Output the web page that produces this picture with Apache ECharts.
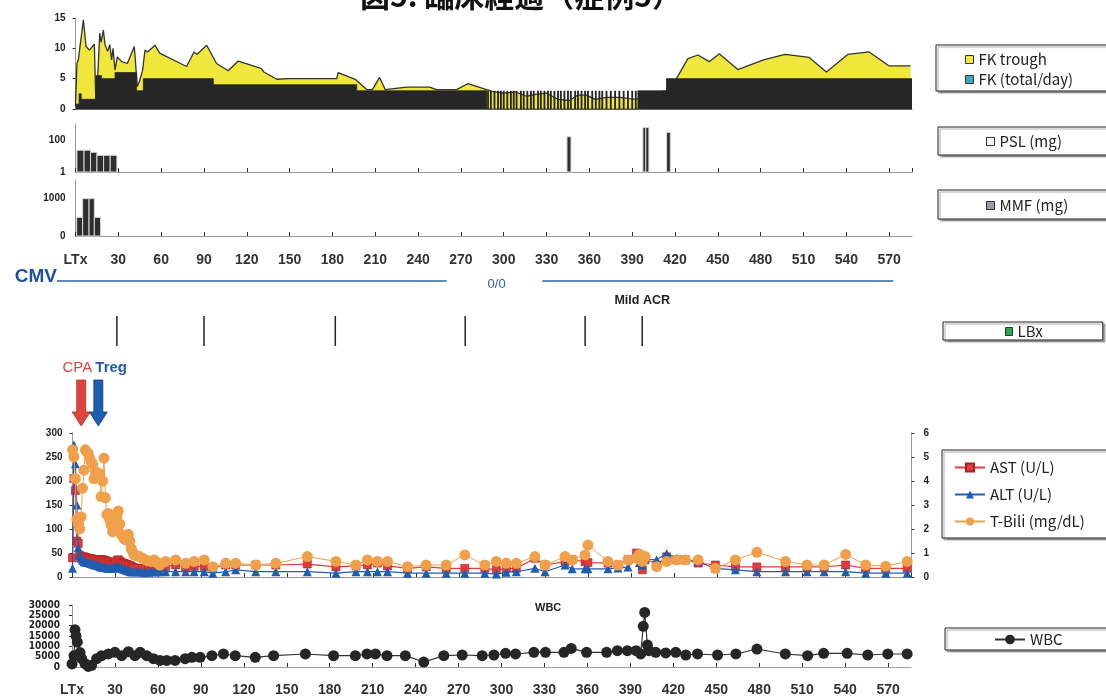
<!DOCTYPE html>
<html>
<head>
<meta charset="utf-8">
<script src="https://cdn.jsdelivr.net/npm/echarts@6/dist/echarts.min.js"></script>
<style>
  html, body { margin: 0; padding: 0; background: #fff; }
  #main { width: 1106px; height: 698px; }
</style>
</head>
<body>
<div id="main"></div>
<script>
// ---- FK (tacrolimus) ----
const fkTroughDays = [0, 1, 2, 3.2, 5.5, 7.4, 9.7, 13.2, 14.2, 15.5, 17, 18, 19.5, 20.7, 22.5, 24, 25.3, 26.3, 27.7, 29.3, 32.3, 36.3, 37.5, 39.3, 41.2, 43.3, 45, 47, 48.7, 50.5, 55.7, 59, 77.8, 83, 85, 91.9, 98.8, 107, 114, 130, 132, 141, 149, 183, 184, 196, 204, 208, 213, 217, 232, 248, 253, 267, 275, 288, 292, 300, 308, 316, 322, 330, 338, 346, 352, 358, 364, 372, 382, 388, 393, 400, 414, 421, 429, 436, 444, 451, 464, 482, 497, 514, 526, 541, 556, 570, 585];
const fkTroughVals = [0.5, 7.5, 8.1, 8.3, 14.7, 10.3, 9.7, 10.7, 1.5, 5, 12.5, 11, 13, 10.6, 9.5, 10.6, 8.1, 10, 6.4, 8.6, 7.8, 7.5, 7.5, 9.2, 10.3, 3.7, 4.7, 6.4, 9.7, 9.4, 10.5, 9.2, 7.0, 9.4, 9.0, 10.5, 7.5, 6.3, 7.9, 6.7, 6.1, 4.9, 5.0, 5.0, 6.0, 4.9, 3.2, 3.2, 5.2, 3.2, 3.6, 3.6, 3.2, 3.2, 4.2, 3.2, 2.9, 2.6, 2.8, 2.1, 2.4, 2.6, 1.6, 1.4, 2.3, 2.3, 1.6, 1.9, 1.9, 1.7, 1.6, 2.5, 3, 5, 8.3, 8.9, 7.8, 9.1, 6.5, 8.1, 9.0, 8.5, 6.1, 9.0, 9.4, 7.1, 7.1];
// daily dose, each value holds from its day on
const fkDoseDays = [0, 2.5, 4, 14.3, 18.3, 27.7, 42.8, 47.5, 96.5, 197, 288, 394, 414, 586];
const fkDoseVals = [0.8, 2.5, 1.6, 5.5, 5, 6, 3, 5, 4, 3, 0, 3, 5, 5];
// alternate-day dosing window
const fkAltDays = [289, 291, 293.5, 296, 298, 300, 302.5, 305, 307, 309, 312, 314, 316.5, 319, 321, 324, 326, 328.5, 331, 333, 335.5, 338, 340, 342.5, 345, 347, 350, 352, 354.5, 357, 359, 362, 364.5, 367, 369, 372, 375, 378, 381, 384, 387, 390, 392.5];
const fkAltVals = [3, 3, 3, 3, 3, 3, 3, 3, 3, 3, 3, 3, 3, 3, 3, 3, 3, 3, 3, 3, 3, 3, 3, 3, 3, 3, 3, 3, 3, 3, 3, 3, 3, 3, 3, 3, 3, 3, 3, 3, 3, 3, 3];

// ---- PSL / MMF (start day, end day, mg) ----
const pslStart = [1, 6, 10.5, 15, 19.7, 24.3, 344.3, 397.5, 399.5, 414.1];
const pslEnd = [6, 10.5, 15, 19.7, 24.3, 29, 347.1, 399.5, 401.7, 416.7];
const pslDose = [23, 23, 17, 11, 11, 11, 160, 600, 600, 300];
const mmfStart = [0.8, 5, 9.5, 13.2];
const mmfEnd = [5, 9.5, 13.2, 17.6];
const mmfDose = [500, 1000, 1000, 500];

// ---- events ----
const cmvStart = [-13, 327];
const cmvEnd = [260, 573];
const cmvLabelDay = 295;
const lbxDays = [29, 90, 182, 273, 357, 397];
const acrDay = 397;
const arrowDays = [4, 16];
const arrowNames = ['CPA', 'Treg'];

// ---- labs ----
const labDays = [0,1,2,3,4,5,6,7,8,9,10,11,12,13,14,15,16,17,18,19,20,21,22,23,24,25,26,27,28,29,30,31,32,33,34,35,36,37,38,39,40,41,42,43,45,47,49,51,53,55,57,59,61,65,72,79,85,92,98,107,114,128,142,164,184,198,206,213,220,234,247,261,274,288,296,303,310,323,330,344,349,358,360,374,381,388,394,396,398,400,408,415,422,428,437,449,463,478,498,513,525,540,554,568,583];
const ast = [40,205,180,75,70,45,42,42,42,40,40,39,38,38,37,36,36,36,36,36,36,36,35,34,33,32,30,27,25,26,30,34,36,33,30,29,28,27,26,25,24,22,20,19,18,18,18,18,18,19,20,20,21,22,25,20,22,22,20,25,25,25,25,27,21,23,25,29,23,18,21,18,18,18,15,18,18,39,25,32,36,32,30,29,25,36,50,45,15,39,25,42,36,36,29,25,21,21,21,21,21,25,18,18,18];
const alt = [18,275,236,150,61,45,39,35,32,32,30,30,29,28,27,26,25,25,24,22,21,21,20,20,19,18,18,18,18,19,20,21,21,20,18,17,16,15,14,13,12,11,11,11,11,11,10,10,10,11,11,11,11,11,11,11,11,11,8,11,15,11,11,11,8,11,11,11,11,8,8,8,8,8,6,10,11,18,11,25,17,17,17,17,19,21,39,30,25,36,36,49,39,36,32,18,15,11,11,11,11,11,8,8,8];
const tbili = [5.3,5.0,4.1,2.4,2.2,2.0,2.5,3.7,4.45,5.3,5.2,5.15,4.95,4.8,4.7,4.1,4.4,4.2,4.25,4.3,3.35,4.0,4.95,3.3,2.6,2.65,2.4,2.17,1.89,2.1,2.3,2.5,2.75,2.2,1.78,1.7,1.6,1.55,1.65,1.78,1.5,1.19,1.05,0.92,0.88,0.85,0.78,0.71,0.68,0.65,0.71,0.6,0.5,0.65,0.71,0.57,0.65,0.71,0.43,0.57,0.57,0.5,0.57,0.85,0.65,0.5,0.71,0.65,0.65,0.43,0.5,0.5,0.92,0.5,0.65,0.57,0.57,0.85,0.5,0.85,0.71,0.92,1.33,0.65,0.5,0.71,0.78,0.95,0.65,0.85,0.43,0.65,0.71,0.71,0.71,0.36,0.71,1.03,0.65,0.5,0.5,0.94,0.5,0.45,0.65];

const wbcDays = [0,1.4,2.1,2.8,3.7,5.6,6.8,9.1,11.4,13.7,17.2,20.7,25.4,30,34.7,39.4,44,47.6,52.2,56.9,61.5,66.2,72,79,83.7,89.5,97.7,105.8,114,128,140.8,163,182.7,197.9,206,211.9,220,232.8,245.7,259.7,272.5,286.5,294.7,302.8,309.8,322.6,330.7,343.6,348.7,359.4,373.4,380.9,387.9,394,397.2,399,400,401.9,403,407.7,414.7,421.7,428.7,436.9,450.9,463.7,478.4,498.2,513.8,525,541.4,555.8,569.8,583.3];
const wbc = [1500,5500,18000,15000,12000,7000,4000,1600,300,800,4000,5500,6300,7100,5500,7400,5500,7100,5500,4000,3200,3200,3200,4000,4700,4700,5500,6300,5500,4700,5500,6300,5500,5500,6300,6300,5500,5500,2400,5500,5800,5500,5800,6600,6300,7100,7100,7100,9000,7100,7100,7900,7900,7900,6300,19700,26400,10600,7900,7100,6800,7100,5800,6300,5800,6300,8700,6300,5500,6600,6600,5800,6300,6300];

const zip = (a, b) => a.map((v, i) => [v, b[i]]);
const zip3 = (a, b, c) => a.map((v, i) => [v, b[i], c[i]]);

const FONT = 'Liberation Sans';
const LEG_FONT = 'Noto Sans CJK JP';
const YELLOW = '#efe73c';
const DARK = '#262626';

const chart = echarts.init(document.getElementById('main'));

function rectBars(base, fill, stroke) {
  return function (params, api) {
    const top = api.coord([api.value(0), api.value(2)]);
    const bot = api.coord([api.value(1), base]);
    return {
      type: 'rect',
      shape: { x: top[0], y: top[1], width: bot[0] - top[0], height: bot[1] - top[1] },
      style: { fill: fill, stroke: stroke, lineWidth: 1 }
    };
  };
}

function dayAxis(grid, extra) {
  return Object.assign({
    type: 'value', gridIndex: grid, min: 0, max: 586, interval: 30,
    axisLine: { show: true, lineStyle: { color: '#8a8a8a', type: 'dotted', width: 1 } },
    axisTick: { show: true, inside: true, length: 4, lineStyle: { color: '#333' } },
    axisLabel: { show: false },
    splitLine: { show: false }
  }, extra || {});
}
const dayLabels = {
  show: true, margin: 17, fontSize: 14, fontWeight: 'bold', fontFamily: FONT, color: '#333',
  showMaxLabel: false,
  formatter: v => (v === 0 ? 'LTx' : String(v))
};
function hiddenAxis(grid) {
  return { type: 'value', gridIndex: grid, min: 0, max: 586, show: false };
}
function unitY(grid) {
  return { type: 'value', gridIndex: grid, min: 0, max: 1, show: false };
}
const yLab = { fontSize: 10, fontWeight: 'bold', fontFamily: FONT, color: '#222', margin: 10 };
const yLine = { show: true, lineStyle: { color: '#999', width: 1 } };
const yTick = { show: true, length: 3, lineStyle: { color: '#333' } };

const legendBox = {
  orient: 'vertical', borderColor: '#222', borderWidth: 1, backgroundColor: '#fff',
  shadowColor: 'rgba(0,0,0,0.35)', shadowOffsetX: 2, shadowOffsetY: 2, shadowBlur: 1,
  textStyle: { fontSize: 15, fontFamily: LEG_FONT, color: '#222' },
  selectedMode: false
};
function sq(color) {
  return { icon: 'rect', itemStyle: { color: color, borderColor: '#333', borderWidth: 1 } };
}

const option = {
  animation: false,
  title: [
    { text: '図5. 臨床経過（症例5）', left: 355, top: -24,
      textStyle: { fontSize: 30, fontWeight: 'bold', fontFamily: 'Noto Sans CJK JP', color: '#111' } },
    { text: 'WBC', left: 530, top: 597,
      textStyle: { fontSize: 11, fontWeight: 'bold', fontFamily: FONT, color: '#222' } }
  ],
  grid: [
    { left: 75.5, width: 836.5, top: 18, height: 91 },
    { left: 75.5, width: 836.5, top: 124, height: 48 },
    { left: 75.5, width: 836.5, top: 180, height: 56 },
    { left: 75.5, width: 836.5, top: 272, height: 18 },
    { left: 75.5, width: 836.5, top: 316, height: 30 },
    { left: 75.5, width: 836.5, top: 380, height: 46 },
    { left: 72.5, width: 839, top: 433, height: 144 },
    { left: 72, width: 839, top: 605, height: 62 }
  ],
  xAxis: [
    dayAxis(0, { axisTick: { show: false }, axisLine: { show: true, lineStyle: { color: '#666' } } }),
    dayAxis(1),
    dayAxis(2, { axisLabel: dayLabels }),
    hiddenAxis(3),
    hiddenAxis(4),
    hiddenAxis(5),
    dayAxis(6),
    dayAxis(7, { axisLabel: Object.assign({}, dayLabels, { margin: 16 }) })
  ],
  yAxis: [
    { type: 'value', gridIndex: 0, min: 0, max: 15, interval: 5, axisLine: yLine, axisTick: yTick,
      axisLabel: yLab, splitLine: { show: false } },
    { type: 'log', gridIndex: 1, min: 1, max: 1000, logBase: 10, axisLine: yLine,
      axisTick: { show: false },
      axisLabel: Object.assign({}, yLab, { formatter: v => (v === 1 || v === 100 ? String(v) : '') }),
      splitLine: { show: false } },
    { type: 'value', gridIndex: 2, min: 0, max: 1500, interval: 500, axisLine: yLine, axisTick: { show: false },
      axisLabel: Object.assign({}, yLab, { showMaxLabel: false, formatter: v => (v === 0 || v === 1000 ? String(v) : '') }),
      splitLine: { show: false } },
    unitY(3),
    unitY(4),
    unitY(5),
    { type: 'value', gridIndex: 6, min: 0, max: 300, interval: 50, axisLine: yLine, axisTick: yTick,
      axisLabel: yLab, splitLine: { show: false } },
    { type: 'value', gridIndex: 6, position: 'right', min: 0, max: 6, interval: 1, axisLine: yLine, axisTick: yTick,
      axisLabel: Object.assign({}, yLab, { margin: 12 }), splitLine: { show: false } },
    { type: 'value', gridIndex: 7, min: 0, max: 30000, interval: 5000, axisLine: yLine, axisTick: yTick,
      axisLabel: Object.assign({}, yLab, { fontSize: 10, margin: 12, fontFamily: 'DejaVu Sans Condensed',
        formatter: v => String(v) }),
      splitLine: { show: false } }
  ],
  legend: [
    Object.assign({}, legendBox, { left: 936, top: 45, padding: [7, 60, 4, 29], itemGap: 5, itemWidth: 8, itemHeight: 8,
      data: [Object.assign({ name: 'FK trough' }, sq(YELLOW)), Object.assign({ name: 'FK (total/day)' }, sq('#3fa6c6'))] }),
    Object.assign({}, legendBox, { left: 938, top: 127, padding: [7, 60, 6, 48], itemWidth: 8, itemHeight: 8,
      data: [Object.assign({ name: 'PSL (mg)' }, sq('#f4f4f4'))] }),
    Object.assign({}, legendBox, { left: 938, top: 190, padding: [8, 60, 6, 48], itemWidth: 8, itemHeight: 8,
      data: [Object.assign({ name: 'MMF (mg)' }, sq('#9a9aa8'))] }),
    Object.assign({}, legendBox, { left: 943, top: 322, padding: [2, 60, 1, 62], itemWidth: 7, itemHeight: 8,
      data: [Object.assign({ name: 'LBx' }, sq('#2aa84a'))] }),
    Object.assign({}, legendBox, { left: 942, top: 450, padding: [10, 60, 9, 12], itemGap: 12, itemWidth: 30, itemHeight: 10,
      data: ['AST (U/L)', 'ALT (U/L)', 'T-Bili (mg/dL)'] }),
    Object.assign({}, legendBox, { left: 945, top: 628, padding: [4, 60, 3, 49], itemWidth: 30, itemHeight: 12,
      data: ['WBC'] })
  ],
  series: [
    { name: 'FK trough', type: 'line', xAxisIndex: 0, yAxisIndex: 0, data: zip(fkTroughDays, fkTroughVals),
      symbol: 'none', z: 2, lineStyle: { color: '#333', width: 1.3 }, itemStyle: { color: YELLOW },
      areaStyle: { color: YELLOW, opacity: 1 } },
    { name: 'FK (total/day)', type: 'line', step: 'end', xAxisIndex: 0, yAxisIndex: 0, data: zip(fkDoseDays, fkDoseVals),
      symbol: 'none', z: 3, lineStyle: { color: DARK, width: 0.8 }, itemStyle: { color: DARK },
      areaStyle: { color: DARK, opacity: 1 } },
    { name: 'FK (total/day)', type: 'custom', xAxisIndex: 0, yAxisIndex: 0, z: 4,
      data: zip(fkAltDays, fkAltVals), encode: { x: 0, y: 1 },
      renderItem: function (params, api) {
        const top = api.coord([api.value(0) - 0.65, api.value(1)]);
        const bot = api.coord([api.value(0) + 0.65, 0]);
        return { type: 'rect', shape: { x: top[0], y: top[1], width: bot[0] - top[0], height: bot[1] - top[1] },
          style: { fill: DARK } };
      } },
    { name: 'PSL (mg)', type: 'custom', xAxisIndex: 1, yAxisIndex: 1, data: zip3(pslStart, pslEnd, pslDose),
      encode: { x: [0, 1], y: 2 }, itemStyle: { color: '#333' }, renderItem: rectBars(1, '#2e2e2e', '#d8d8d8') },
    { name: 'MMF (mg)', type: 'custom', xAxisIndex: 2, yAxisIndex: 2, data: zip3(mmfStart, mmfEnd, mmfDose),
      encode: { x: [0, 1], y: 2 }, itemStyle: { color: '#333' }, renderItem: rectBars(0, '#2e2e2e', '#d8d8d8') },
    { name: 'CMV', type: 'custom', xAxisIndex: 3, yAxisIndex: 3, data: zip(cmvStart, cmvEnd),
      encode: { x: [0, 1] },
      renderItem: function (params, api) {
        const a = api.coord([api.value(0), 0.5]);
        const b = api.coord([api.value(1), 0.5]);
        const children = [{ type: 'line', shape: { x1: a[0], y1: a[1], x2: b[0], y2: b[1] },
          style: { stroke: '#2f62aa', lineWidth: 1.3 } }];
        if (params.dataIndex === 0) {
          children.push({ type: 'text', x: a[0], y: a[1] - 4,
            style: { text: 'CMV', align: 'right', verticalAlign: 'middle', fill: '#1f4f9c',
              font: 'bold 19px ' + FONT } });
          const c = api.coord([cmvLabelDay, 0.5]);
          children.push({ type: 'text', x: c[0], y: c[1] + 3,
            style: { text: '0/0', align: 'center', verticalAlign: 'middle', fill: '#2f62aa',
              font: '13px ' + FONT } });
        }
        return { type: 'group', children: children };
      } },
    { name: 'LBx', type: 'custom', xAxisIndex: 4, yAxisIndex: 4, data: lbxDays.map(d => [d]),
      encode: { x: 0 }, itemStyle: { color: '#2aa84a' },
      renderItem: function (params, api) {
        const d = api.value(0);
        const a = api.coord([d, 1]);
        const b = api.coord([d, 0]);
        const children = [{ type: 'line', shape: { x1: a[0], y1: a[1], x2: b[0], y2: b[1] },
          style: { stroke: '#222', lineWidth: 1.5 } }];
        if (d === acrDay) {
          children.push({ type: 'text', x: a[0], y: a[1] - 15,
            style: { text: 'Mild ACR', align: 'center', verticalAlign: 'middle', fill: '#222',
              font: 'bold 12.5px ' + FONT } });
        }
        return { type: 'group', children: children };
      } },
    { name: 'Tx', type: 'custom', xAxisIndex: 5, yAxisIndex: 5, data: arrowDays.map(d => [d]),
      encode: { x: 0 },
      renderItem: function (params, api) {
        const i = params.dataIndex;
        const color = i === 0 ? '#e0453c' : '#1f5db0';
        const a = api.coord([api.value(0), 1]);
        const b = api.coord([api.value(0), 0]);
        const x = a[0], t = a[1], bt = b[1];
        const pts = [[x - 4.5, t], [x + 4.5, t], [x + 4.5, bt - 14], [x + 9, bt - 14], [x, bt],
          [x - 9, bt - 14], [x - 4.5, bt - 14]];
        return { type: 'group', children: [
          { type: 'polygon', shape: { points: pts }, style: { fill: color, stroke: i === 0 ? '#b03028' : '#173f80', lineWidth: 0.8 } },
          { type: 'text', x: i === 0 ? x + 11 : x - 3, y: t - 12,
            style: { text: arrowNames[i], align: i === 0 ? 'right' : 'left', verticalAlign: 'middle',
              fill: color, font: (i === 0 ? '' : 'bold ') + '15px ' + FONT } }
        ] };
      } },
    { name: 'AST (U/L)', type: 'line', xAxisIndex: 6, yAxisIndex: 6, data: zip(labDays, ast),
      symbol: 'rect', symbolSize: 8, z: 3,
      lineStyle: { color: '#e23c3c', width: 1.2 },
      itemStyle: { color: '#e23c3c', borderColor: '#a82020', borderWidth: 0.6 } },
    { name: 'ALT (U/L)', type: 'line', xAxisIndex: 6, yAxisIndex: 6, data: zip(labDays, alt),
      symbol: 'triangle', symbolSize: 9, z: 4,
      lineStyle: { color: '#1f5db0', width: 1.2 },
      itemStyle: { color: '#1f5db0' } },
    { name: 'T-Bili (mg/dL)', type: 'line', xAxisIndex: 6, yAxisIndex: 7, data: zip(labDays, tbili),
      symbol: 'circle', symbolSize: 11, z: 5,
      lineStyle: { color: '#f0a04b', width: 1 },
      itemStyle: { color: '#f0a04b' } },
    { name: 'WBC', type: 'line', xAxisIndex: 7, yAxisIndex: 8, data: zip(wbcDays, wbc),
      symbol: 'circle', symbolSize: 11, z: 3,
      lineStyle: { color: '#333', width: 1.2 },
      itemStyle: { color: '#262626' } }
  ]
};

chart.setOption(option);
</script>
</body>
</html>
